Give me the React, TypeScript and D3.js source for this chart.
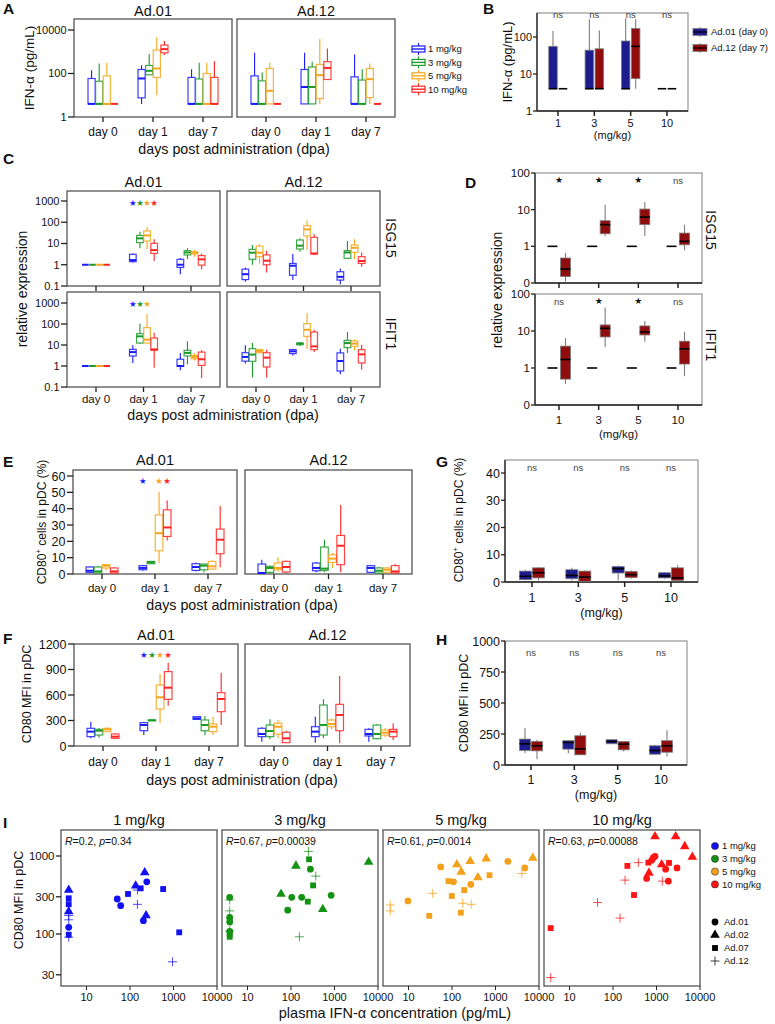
import React from "react";
import * as d3 from "d3";

const FONT = "'Liberation Sans', Arial, Helvetica, sans-serif";

// ---------- categories ----------
const days = ["day 0", "day 1", "day 7"];
const doses = ["1 mg/kg", "3 mg/kg", "5 mg/kg", "10 mg/kg"];
const doseTicks = ["1", "3", "5", "10"];
const vectors = ["Ad.01", "Ad.12"];
const doseColors = ["#1a1aff", "#1c9a2a", "#f4a61c", "#ff2424"];
const pairColors = ["#1c1c8e", "#8f0d0d"];
const pairLabels = ["Ad.01 (day 0)", "Ad.12 (day 7)"];
const shapeVectors = ["Ad.01", "Ad.02", "Ad.07", "Ad.12"];
const scatterColors = ["#1010f0", "#139213", "#f3a01a", "#ff1414"];

// ---------- box statistics: [min, q1, median, q3, max], indexed [day][dose] ----------
const ifnAd01 = [
  [[4, 4, 4, 59, 142], [4, 4, 4, 44, 290], [4, 4, 4, 78, 310], [4, 4, 4, 4, 4]],
  [[4, 7.6, 59, 153, 241], [87, 87, 133, 234, 780], [10, 66, 170, 1200, 4600], [700, 900, 1320, 2030, 3100]],
  [[4, 4, 4, 66, 158], [4, 4, 4, 56, 310], [4, 4, 4, 100, 310], [4, 4, 4, 66, 370]],
];
const ifnAd12 = [
  [[4, 4, 4, 78, 900], [4, 4, 4, 46, 110], [4, 4, 16, 170, 310], [4, 4, 4, 4, 4]],
  [[4, 4, 24, 153, 900], [4, 4, 24, 200, 350], [4, 7, 84, 260, 3900], [50, 53, 180, 350, 1400]],
  [[4, 4, 4, 70, 750], [4, 4, 4, 50, 158], [4, 7.8, 55, 170, 290], [4, 4, 4, 4, 4]],
];

// IFN-α by dose: Ad.01 at day 0 vs Ad.12 at day 7
const ifnDay0Ad01 = [[4, 4, 4, 56, 145], [4, 4, 4, 44, 300], [4, 4, 4, 78, 320], [4, 4, 4, 4, 4]];
const ifnDay7Ad12 = [[4, 4, 4, 4, 4], [4, 4, 4, 48, 150], [4, 7.5, 56, 170, 300], [4, 4, 4, 4, 4]];
const ifnSig = ["ns", "ns", "ns", "ns"];

const isgAd01 = [
  [[1, 1, 1, 1, 1], [1, 1, 1, 1, 1], [1, 1, 1, 1, 1], [1, 1, 1, 1, 1]],
  [[1.24, 1.4, 1.66, 3.1, 3.4], [5.9, 11, 17.5, 24, 36], [5.5, 13, 24, 39, 58], [1.5, 3.4, 4.9, 10.2, 16]],
  [[0.36, 0.75, 1.0, 1.8, 2.1], [1.8, 2.9, 3.8, 4.6, 5.9], [2.4, 3.2, 3.7, 4.1, 4.9], [0.6, 0.96, 1.8, 2.7, 3.4]],
];
const isgAd12 = [
  [[0.16, 0.2, 0.36, 0.62, 0.75], [1.0, 1.8, 3.7, 5.3, 8.5], [1.15, 2.4, 3.7, 7.6, 9.1], [0.43, 1.0, 1.55, 2.9, 4.6]],
  [[0.19, 0.32, 0.9, 1.15, 3.2], [4.1, 5.5, 7.9, 14.6, 17.5], [4.9, 22.6, 46, 69, 120], [2.9, 3.2, 3.4, 19.5, 27]],
  [[0.12, 0.19, 0.27, 0.47, 0.67], [2.0, 2.0, 3.8, 4.6, 13], [1.85, 3.8, 6.3, 8.5, 15.7], [0.8, 1.15, 1.5, 2.4, 3.8]],
];
const ifitAd01 = [
  [[1, 1, 1, 1, 1], [1, 1, 1, 1, 1], [1, 1, 1, 1, 1], [1, 1, 1, 1, 1]],
  [[1.4, 3.0, 4.6, 6.2, 9.6], [11.6, 12.4, 25.8, 34.6, 104], [12, 12.4, 18, 67, 310], [0.83, 5.6, 6.2, 21.5, 38.6]],
  [[0.62, 0.96, 1.0, 2.1, 4.2], [1.2, 3.0, 4.2, 5.6, 15], [1.85, 2.2, 2.7, 3.2, 3.9], [0.27, 1.07, 2.1, 4.6, 5.6]],
];
const ifitAd12 = [
  [[1.3, 1.7, 2.7, 4.3, 9.6], [0.28, 1.67, 3.5, 6.7, 12.4], [3.9, 4.3, 5.2, 6.0, 6.7], [0.28, 0.9, 2.5, 4.3, 6]],
  [[3.2, 3.9, 5, 6, 6.7], [9, 10.3, 11.6, 12.4, 13.9], [6.7, 25.8, 53, 104, 335], [4.6, 6.0, 8.6, 41.5, 53]],
  [[0.4, 0.58, 1.73, 4.2, 6.7], [4.2, 7.5, 12.4, 16.6, 41.5], [5.6, 8.6, 11.6, 15.5, 18.6], [0.67, 1.4, 3.6, 6, 10.3]],
];
const isgStars = [true, true, true, true];
const ifitStars = [true, true, true, false];

// relative expression by dose: Ad.01 day 0 reference vs Ad.12 day 7
const expRefAd01 = [[1, 1, 1, 1, 1], [1, 1, 1, 1, 1], [1, 1, 1, 1, 1], [1, 1, 1, 1, 1]];
const isgDay7Ad12 = [[0.11, 0.15, 0.24, 0.48, 0.66], [1.9, 2.2, 3.9, 5.0, 13.7], [1.9, 3.9, 6.3, 10.4, 16.2], [0.78, 1.1, 1.37, 2.3, 3.9]];
const ifitDay7Ad12 = [[0.37, 0.5, 1.7, 3.9, 6.4], [3.7, 6.9, 11.8, 14.6, 43], [5.1, 7.8, 9.4, 13.7, 18.7], [0.6, 1.28, 3.3, 5.3, 9.6]];
const isgSig = ["*", "*", "*", "ns"];
const ifitSig = ["ns", "*", "*", "ns"];

const cd80PctAd01 = [
  [[0.6, 1.0, 2.0, 4.3, 4.7], [0.4, 0.6, 1.6, 4.3, 5.1], [2.2, 3.7, 5.1, 5.7, 6.1], [0.4, 0.6, 1.6, 3.7, 4.1]],
  [[2.0, 2.6, 3.7, 5.1, 5.7], [6.3, 6.3, 7.1, 7.7, 7.7], [6.7, 14.2, 25, 36.2, 50.4], [20.5, 23, 28.5, 39.3, 45]],
  [[1.6, 2.2, 4.3, 6.3, 7.1], [1.0, 2.6, 5.1, 6.1, 6.3], [2.6, 3.0, 4.7, 7.7, 8.3], [4.1, 12.4, 21, 27.5, 41.7]],
];
const cd80PctAd12 = [
  [[0.4, 0.6, 0.6, 6.1, 8.7], [0.2, 1.0, 3.7, 4.7, 5.1], [1.6, 2.6, 3.7, 6.7, 10.2], [0.6, 1.2, 4.3, 7.7, 8.3]],
  [[1.0, 2.0, 3.7, 6.7, 7.3], [1.0, 2.2, 3.3, 16.5, 21], [3.7, 7.1, 9.4, 11.8, 12.8], [1.0, 5.7, 17.3, 23.6, 42.3]],
  [[0.6, 1.0, 3.7, 5.1, 5.5], [0.4, 0.6, 2.0, 3.7, 4.3], [0.6, 1.0, 2.6, 3.7, 4.3], [0.6, 0.6, 1.6, 5.1, 6.1]],
];
const cd80PctStars = [true, false, true, true];

const cd80MfiAd01 = [
  [[90, 110, 169, 208, 286], [98, 129, 180, 196, 208], [169, 169, 196, 208, 220], [86, 90, 110, 141, 149]],
  [[129, 180, 247, 275, 286], [298, 298, 302, 306, 306], [267, 435, 573, 718, 847], [475, 549, 686, 875, 980]],
  [[306, 314, 325, 345, 353], [129, 180, 247, 306, 353], [129, 169, 227, 259, 345], [247, 404, 553, 627, 863]],
];
const cd80MfiAd12 = [
  [[51, 110, 141, 208, 220], [78, 110, 176, 247, 314], [90, 141, 227, 267, 306], [39, 39, 90, 161, 180]],
  [[39, 110, 169, 227, 345], [90, 129, 247, 482, 549], [196, 227, 259, 306, 325], [31, 180, 365, 490, 824]],
  [[51, 118, 141, 196, 208], [78, 86, 141, 247, 255], [102, 129, 157, 188, 208], [71, 110, 169, 196, 267]],
];
const cd80MfiStars = [true, true, true, true];

const cd80PctDay0Ad01 = [[0.6, 0.85, 2.1, 4.0, 4.5], [0.6, 1.2, 2.4, 4.5, 5.2], [0.6, 3.3, 4.9, 5.7, 6.1], [1.2, 1.5, 2.2, 3.4, 3.7]];
const cd80PctDay7Ad12 = [[0.6, 1.5, 3.4, 5.2, 5.5], [0.25, 0.25, 1.8, 4.0, 4.3], [1.2, 1.6, 2.7, 3.9, 4.3], [0.4, 0.6, 1.5, 5.2, 6.1]];
const cd80MfiDay0Ad01 = [[95, 117, 171, 209, 299], [95, 128, 182, 196, 196], [171, 171, 190, 204, 209], [82, 87, 117, 155, 163]];
const cd80MfiDay7Ad12 = [[46, 114, 155, 190, 204], [82, 82, 130, 236, 258], [109, 122, 168, 190, 190], [68, 103, 155, 196, 280]];
const nsSig = ["ns", "ns", "ns", "ns"];

// ---------- correlation: [vector, plasma IFN-α (pg/mL), CD80 MFI] ----------
const corr1mg = [
  ["Ad.02", 3.9, 366], ["Ad.07", 3.9, 287], ["Ad.07", 3.9, 241], ["Ad.02", 3.9, 194], ["Ad.12", 3.9, 173],
  ["Ad.12", 3.9, 152], ["Ad.01", 3.9, 122], ["Ad.07", 3.9, 98], ["Ad.12", 3.9, 91],
  ["Ad.01", 51, 281], ["Ad.01", 61, 231], ["Ad.07", 90, 326], ["Ad.02", 135, 416], ["Ad.12", 148, 366],
  ["Ad.07", 176, 385], ["Ad.12", 148, 240], ["Ad.02", 218, 614], ["Ad.01", 243, 467], ["Ad.02", 234, 173],
  ["Ad.01", 203, 148], ["Ad.07", 578, 377], ["Ad.07", 1352, 105], ["Ad.12", 948, 44],
];
const corr3mg = [
  ["Ad.01", 3.9, 295], ["Ad.12", 3.9, 273], ["Ad.12", 3.9, 198], ["Ad.01", 3.9, 163], ["Ad.07", 3.9, 152],
  ["Ad.01", 3.9, 142], ["Ad.12", 3.9, 110], ["Ad.01", 3.9, 108], ["Ad.07", 3.9, 100], ["Ad.07", 3.9, 92],
  ["Ad.12", 251, 1146], ["Ad.07", 260, 907], ["Ad.02", 130, 747], ["Ad.01", 279, 677], ["Ad.12", 371, 552],
  ["Ad.02", 6090, 839], ["Ad.07", 322, 420], ["Ad.02", 59, 326], ["Ad.01", 104, 295], ["Ad.01", 176, 295],
  ["Ad.01", 838, 313], ["Ad.07", 243, 260], ["Ad.01", 84, 202], ["Ad.02", 538, 208], ["Ad.12", 156, 92],
];
const corr5mg = [
  ["Ad.12", 3.8, 236], ["Ad.12", 3.8, 198],
  ["Ad.01", 9.7, 265], ["Ad.01", 55, 725], ["Ad.02", 129, 776], ["Ad.02", 262, 855], ["Ad.02", 163, 626],
  ["Ad.02", 610, 925], ["Ad.02", 393, 531], ["Ad.02", 7210, 944], ["Ad.01", 1923, 855], ["Ad.01", 4725, 703],
  ["Ad.12", 4030, 596], ["Ad.07", 728, 567], ["Ad.07", 83, 476], ["Ad.01", 108, 467], ["Ad.01", 271, 432],
  ["Ad.07", 191, 366], ["Ad.12", 36, 332], ["Ad.07", 99, 307], ["Ad.12", 177, 248], ["Ad.12", 276, 240],
  ["Ad.07", 160, 188], ["Ad.07", 30, 171],
];
const corr10mg = [
  ["Ad.07", 3.7, 119], ["Ad.12", 3.7, 27.6], ["Ad.12", 44, 253], ["Ad.12", 145, 160], ["Ad.07", 304, 316],
  ["Ad.12", 189, 491], ["Ad.07", 214, 747], ["Ad.12", 382, 822], ["Ad.02", 924, 1778], ["Ad.02", 2760, 1778],
  ["Ad.02", 4450, 1327], ["Ad.02", 6670, 971], ["Ad.02", 1316, 776], ["Ad.02", 673, 608], ["Ad.07", 649, 822],
  ["Ad.01", 774, 881], ["Ad.01", 846, 953], ["Ad.01", 924, 990], ["Ad.07", 1937, 815], ["Ad.01", 1625, 677],
  ["Ad.01", 2960, 703], ["Ad.01", 594, 515], ["Ad.01", 1870, 476], ["Ad.12", 1360, 476],
];
const corrR = ["0.2", "0.67", "0.61", "0.63"];
const corrP = ["0.34", "0.00039", "0.0014", "0.00088"];

// ---------- drawing helpers ----------
function Box({ cx, w, s, y, color, filled }: any) {
  const [mn, q1, md, q3, mx] = s;
  const yT = y(q3);
  const yB = y(q1);
  const edge = filled ? "#7d7d7d" : color;
  return (
    <g>
      <line x1={cx} x2={cx} y1={y(mx)} y2={yT} stroke={edge} strokeWidth={1.1} />
      <line x1={cx} x2={cx} y1={yB} y2={y(mn)} stroke={edge} strokeWidth={1.1} />
      {yB - yT > 0.3 && (
        <rect x={cx - w / 2} y={yT} width={w} height={yB - yT} fill={filled ? color : "#fff"}
          stroke={edge} strokeWidth={filled ? 0.8 : 1.2} strokeOpacity={filled ? 1 : 0.85} />
      )}
      <line x1={cx - w / 2} x2={cx + w / 2} y1={y(md)} y2={y(md)} stroke={filled ? "#000" : color}
        strokeWidth={filled ? 1.6 : 2} />
    </g>
  );
}

function LeftTicks({ x, y, values, labels, fontSize, len = 6, gap = 1.5 }: any) {
  return (
    <g>
      {values.map((v: number, i: number) => (
        <g key={i}>
          <line x1={x - len} x2={x} y1={y(v)} y2={y(v)} stroke="#222" strokeWidth={1.3} />
          <text x={x - len - gap} y={y(v)} dy="0.36em" textAnchor="end" fontSize={fontSize}>{labels[i]}</text>
        </g>
      ))}
    </g>
  );
}

function DayFacet({ x0, x1, y0, y1, y, data, half, title, titleY, dayY, dayFont, stars, starY }: any) {
  const xs = d3.scalePoint().domain(days).range([x0 + 29, x1 - 29]);
  const band = d3.scaleBand().domain(doses).range([-half, half]).paddingInner(0.06);
  const bw = band.bandwidth();
  const cx = (i: number, j: number) => (xs(days[i]) as number) + (band(doses[j]) as number) + bw / 2;
  return (
    <g>
      {title && <text x={(x0 + x1) / 2} y={titleY} textAnchor="middle" fontSize={14.5}>{title}</text>}
      <rect x={x0} y={y0} width={x1 - x0} height={y1 - y0} fill="none" stroke="#555" strokeWidth={1.3} />
      {days.map((d, i) => (
        <g key={d}>
          <line x1={xs(d)} x2={xs(d)} y1={y1} y2={y1 + 5} stroke="#222" strokeWidth={1.3} />
          {dayY && <text x={xs(d)} y={dayY} textAnchor="middle" fontSize={dayFont}>{d}</text>}
          {doses.map((ds, j) => (
            <Box key={ds} cx={cx(i, j)} w={bw} s={data[i][j]} y={y} color={doseColors[j]} />
          ))}
        </g>
      ))}
      {stars && stars.map((on: boolean, j: number) => on ? (
        <text key={j} x={cx(1, j)} y={starY} dy="0.35em" textAnchor="middle" fontSize={8.5}
          fontFamily="'DejaVu Sans', sans-serif" fill={doseColors[j]}>★</text>
      ) : null)}
    </g>
  );
}

function PairPanel({ x0, x1, y0, y1, y, left, right, sig, sigY, pad, bw, off, yTicks, yLabels, tickFont,
  xLabelY, unitY }: any) {
  const xs = d3.scalePoint().domain(doseTicks).range([x0 + pad, x1 - pad]);
  return (
    <g>
      <rect x={x0} y={y0} width={x1 - x0} height={y1 - y0} fill="none" stroke="#8a8a8a" strokeWidth={1.1} />
      <line x1={x0} x2={x0} y1={y0} y2={y1} stroke="#222" strokeWidth={1.3} />
      <line x1={x0} x2={x1} y1={y1} y2={y1} stroke="#222" strokeWidth={1.3} />
      <LeftTicks x={x0} y={y} values={yTicks} labels={yLabels} fontSize={tickFont} len={4} gap={1} />
      {doseTicks.map((d, j) => (
        <g key={d}>
          <line x1={xs(d)} x2={xs(d)} y1={y1} y2={y1 + 5} stroke="#222" strokeWidth={1.5} />
          {xLabelY && <text x={xs(d)} y={xLabelY} textAnchor="middle" fontSize={tickFont}>{d}</text>}
          <Box cx={(xs(d) as number) - off} w={bw} s={left[j]} y={y} color={pairColors[0]} filled />
          <Box cx={(xs(d) as number) + off} w={bw} s={right[j]} y={y} color={pairColors[1]} filled />
          {sig[j] === "*" ? (
            <text x={xs(d)} y={sigY} dy="-0.1em" textAnchor="middle" fontSize={9}
              fontFamily="'DejaVu Sans', sans-serif" fill="#111">★</text>
          ) : (
            <text x={xs(d)} y={sigY} textAnchor="middle" fontSize={9.5} fill="#444">{sig[j]}</text>
          )}
        </g>
      ))}
      {unitY && <text x={(x0 + x1) / 2} y={unitY} textAnchor="middle" fontSize={tickFont}>(mg/kg)</text>}
    </g>
  );
}

function RotLabel({ x, y, angle = -90, size = 13, children }: any) {
  return (
    <text transform={`translate(${x},${y}) rotate(${angle})`} textAnchor="middle" dy="0.35em" fontSize={size}>
      {children}
    </text>
  );
}

function PanelLetter({ x, y, children }: any) {
  return <text x={x} y={y} fontSize={15.5} fontWeight="bold">{children}</text>;
}

function Marker({ shape, x, y, color }: any) {
  if (shape === "Ad.12") {
    return <path d={`M${x - 4.5},${y}H${x + 4.5}M${x},${y - 4.5}V${y + 4.5}`} stroke={color} strokeWidth={1}
      strokeOpacity={0.75} fill="none" />;
  }
  const type = shape === "Ad.01" ? d3.symbolCircle : shape === "Ad.02" ? d3.symbolTriangle : d3.symbolSquare;
  const size = shape === "Ad.01" ? 36 : shape === "Ad.02" ? 40 : 34;
  return <path d={d3.symbol().type(type).size(size)() as string} transform={`translate(${x},${y})`} fill={color} />;
}

// ---------- layout constants ----------
const yA = d3.scaleLog().domain([1, 10000]).range([117, 30]);
const yB = d3.scaleLog().domain([1, 100]).range([111, 37]);
const yC1 = d3.scaleLog().domain([0.1, 1000]).range([286, 201]);
const yC2 = d3.scaleLog().domain([0.1, 1000]).range([387, 303]);
const yD1 = d3.scaleLog().domain([0.1, 100]).range([283, 173]);
const yD2 = d3.scaleLog().domain([0.1, 100]).range([405, 294]);
const yE = d3.scaleLinear().domain([0, 60]).range([574, 476]);
const yF = d3.scaleLinear().domain([0, 1200]).range([746, 644]);
const yG = d3.scaleLinear().domain([0, 40]).range([582, 473]);
const yH = d3.scaleLinear().domain([0, 1000]).range([765, 641]);

const iX0 = [61, 222, 383, 544];
const iW = 156;
const yI = d3.scaleLog().domain([Math.pow(10, 3 - 130 / 78), Math.pow(10, 3 + 26 / 78)]).range([986, 830]);
const corrSets = [corr1mg, corr3mg, corr5mg, corr10mg];

export default function App() {
  const xI = (x0: number) => d3.scaleLog().domain([Math.pow(10, 4 - iW / 43.5), 10000]).range([x0, x0 + iW]);
  return (
    <svg width={775} height={1024} style={{ position: "absolute", left: 0, top: 0, background: "#fff" }}
      fontFamily={FONT} fill="#111">
      <rect width={775} height={1024} fill="#fff" />

      {/* ---------- A: plasma IFN-α over time ---------- */}
      <PanelLetter x={3} y={14}>A</PanelLetter>
      {[[74, 232], [237, 395]].map(([x0, x1], k) => (
        <DayFacet key={k} x0={x0} x1={x1} y0={19} y1={117} y={yA} data={[ifnAd01, ifnAd12][k]} half={15}
          title={vectors[k]} titleY={16} dayY={136} dayFont={12} />
      ))}
      <LeftTicks x={74} y={yA} values={[1, 100, 10000]} labels={["1", "100", "10000"]} fontSize={11} />
      <RotLabel x={29} y={68} size={13.5}>IFN-α (pg/mL)</RotLabel>
      <text x={234} y={154} textAnchor="middle" fontSize={14.3}>days post administration (dpa)</text>
      {doses.map((d, j) => {
        const ly = 49 + j * 13.4;
        return (
          <g key={d}>
            <line x1={418.5} x2={418.5} y1={ly - 6} y2={ly + 6} stroke={doseColors[j]} strokeWidth={1.1} />
            <rect x={412} y={ly - 3} width={13} height={6} fill="#fff" stroke={doseColors[j]} strokeWidth={1.2} />
            <line x1={412} x2={425} y1={ly} y2={ly} stroke={doseColors[j]} strokeWidth={1.4} />
            <text x={428} y={ly} dy="0.35em" fontSize={9.5}>{d}</text>
          </g>
        );
      })}

      {/* ---------- B: IFN-α by dose ---------- */}
      <PanelLetter x={483} y={14}>B</PanelLetter>
      <PairPanel x0={537} x1={688} y0={13} y1={111} y={yB} left={ifnDay0Ad01} right={ifnDay7Ad12} sig={ifnSig}
        sigY={18} pad={21} bw={8.5} off={5} yTicks={[1, 10, 100]} yLabels={["1", "10", "100"]} tickFont={11}
        xLabelY={127} unitY={139} />
      <RotLabel x={507} y={62} size={13}>IFN-α (pg/mL)</RotLabel>
      {pairLabels.map((l, k) => {
        const ly = 32 + k * 16;
        return (
          <g key={l}>
            <line x1={700} x2={700} y1={ly - 5} y2={ly + 5} stroke="#7d7d7d" strokeWidth={1} />
            <rect x={693} y={ly - 3.5} width={14} height={7} fill={pairColors[k]} stroke="#7d7d7d" strokeWidth={0.8} />
            <line x1={693} x2={707} y1={ly} y2={ly} stroke="#000" strokeWidth={1.2} />
            <text x={711} y={ly} dy="0.35em" fontSize={9.5}>{l}</text>
          </g>
        );
      })}

      {/* ---------- C: ISG15 / IFIT1 over time ---------- */}
      <PanelLetter x={3} y={164}>C</PanelLetter>
      {[[67, 220], [227, 380]].map(([x0, x1], k) => (
        <g key={k}>
          <DayFacet x0={x0} x1={x1} y0={191} y1={286} y={yC1} data={[isgAd01, isgAd12][k]} half={14}
            title={vectors[k]} titleY={187} stars={k === 0 ? isgStars : null} starY={203} />
          <DayFacet x0={x0} x1={x1} y0={292} y1={387} y={yC2} data={[ifitAd01, ifitAd12][k]} half={14}
            dayY={403} dayFont={11.5} stars={k === 0 ? ifitStars : null} starY={304} />
        </g>
      ))}
      <LeftTicks x={67} y={yC1} values={[0.1, 1, 10, 100, 1000]} labels={["0.1", "1", "10", "100", "1000"]} fontSize={11} />
      <LeftTicks x={67} y={yC2} values={[0.1, 1, 10, 100, 1000]} labels={["0.1", "1", "10", "100", "1000"]} fontSize={11} />
      <RotLabel x={22} y={289} size={14}>relative expression</RotLabel>
      <RotLabel x={391} y={238} angle={90} size={14}>ISG15</RotLabel>
      <RotLabel x={391} y={334} angle={90} size={14}>IFIT1</RotLabel>
      <text x={223} y={420} textAnchor="middle" fontSize={14.3}>days post administration (dpa)</text>

      {/* ---------- D: ISG15 / IFIT1 by dose ---------- */}
      <PanelLetter x={465} y={188}>D</PanelLetter>
      <PairPanel x0={535} x1={702} y0={173} y1={283} y={yD1} left={expRefAd01} right={isgDay7Ad12} sig={isgSig}
        sigY={184} pad={24} bw={10} off={6.5} yTicks={[0.1, 1, 10, 100]} yLabels={["0", "1", "10", "100"]}
        tickFont={11.5} />
      <PairPanel x0={535} x1={702} y0={294} y1={405} y={yD2} left={expRefAd01} right={ifitDay7Ad12} sig={ifitSig}
        sigY={305} pad={24} bw={10} off={6.5} yTicks={[0.1, 1, 10, 100]} yLabels={["0", "1", "10", "100"]}
        tickFont={11.5} xLabelY={424} unitY={438} />
      <RotLabel x={497} y={290} size={14}>relative expression</RotLabel>
      <RotLabel x={711} y={230} angle={90} size={14}>ISG15</RotLabel>
      <RotLabel x={711} y={345} angle={90} size={14}>IFIT1</RotLabel>

      {/* ---------- E: CD80+ pDC over time ---------- */}
      <PanelLetter x={3} y={467}>E</PanelLetter>
      {[[73, 237], [245, 412]].map(([x0, x1], k) => (
        <DayFacet key={k} x0={x0} x1={x1} y0={470} y1={574} y={yE} data={[cd80PctAd01, cd80PctAd12][k]} half={16}
          title={vectors[k]} titleY={465} dayY={592} dayFont={11.5} stars={k === 0 ? cd80PctStars : null} starY={481} />
      ))}
      <LeftTicks x={73} y={yE} values={[0, 10, 20, 30, 40, 50, 60]} labels={["0", "10", "20", "30", "40", "50", "60"]} fontSize={12.5} />
      <RotLabel x={42} y={522} size={12}>CD80<tspan fontSize={8} dy="-5">+</tspan><tspan dy="5"> cells in pDC (%)</tspan></RotLabel>
      <text x={242} y={610} textAnchor="middle" fontSize={14.3}>days post administration (dpa)</text>

      {/* ---------- G: CD80+ pDC by dose ---------- */}
      <PanelLetter x={436} y={467}>G</PanelLetter>
      <PairPanel x0={505} x1={698} y0={460} y1={582} y={yG} left={cd80PctDay0Ad01} right={cd80PctDay7Ad12} sig={nsSig}
        sigY={471} pad={27} bw={12} off={6.5} yTicks={[0, 10, 20, 30, 40]} yLabels={["0", "10", "20", "30", "40"]}
        tickFont={12.5} xLabelY={602} unitY={617} />
      <RotLabel x={459} y={520} size={12}>CD80<tspan fontSize={8} dy="-5">+</tspan><tspan dy="5"> cells in pDC (%)</tspan></RotLabel>

      {/* ---------- F: CD80 MFI over time ---------- */}
      <PanelLetter x={3} y={644}>F</PanelLetter>
      {[[74, 238], [245, 410]].map(([x0, x1], k) => (
        <DayFacet key={k} x0={x0} x1={x1} y0={644} y1={746} y={yF} data={[cd80MfiAd01, cd80MfiAd12][k]} half={16}
          title={vectors[k]} titleY={640} dayY={766} dayFont={12} stars={k === 0 ? cd80MfiStars : null} starY={655} />
      ))}
      <LeftTicks x={74} y={yF} values={[0, 300, 600, 900, 1200]} labels={["0", "300", "600", "900", "1200"]} fontSize={12.5} />
      <RotLabel x={27} y={694} size={12.5}>CD80 MFI in pDC</RotLabel>
      <text x={242} y={785} textAnchor="middle" fontSize={14.3}>days post administration (dpa)</text>

      {/* ---------- H: CD80 MFI by dose ---------- */}
      <PanelLetter x={436} y={645}>H</PanelLetter>
      <PairPanel x0={505} x1={687} y0={641} y1={765} y={yH} left={cd80MfiDay0Ad01} right={cd80MfiDay7Ad12} sig={nsSig}
        sigY={656} pad={26} bw={11} off={6} yTicks={[0, 250, 500, 750, 1000]}
        yLabels={["0", "250", "500", "750", "1000"]} tickFont={12.5} xLabelY={784} unitY={799} />
      <RotLabel x={464} y={703} size={12.5}>CD80 MFI in pDC</RotLabel>

      {/* ---------- I: CD80 MFI vs plasma IFN-α ---------- */}
      <PanelLetter x={3} y={828}>I</PanelLetter>
      {iX0.map((x0, k) => {
        const xs = xI(x0);
        return (
          <g key={k}>
            <text x={x0 + iW / 2} y={825} textAnchor="middle" fontSize={14.5}>{doses[k]}</text>
            <rect x={x0} y={830} width={iW} height={156} fill="none" stroke="#555" strokeWidth={1.3} />
            {[10, 100, 1000, 10000].map((t) => (
              <g key={t}>
                <line x1={xs(t)} x2={xs(t)} y1={986} y2={990} stroke="#222" strokeWidth={1} />
                <text x={xs(t)} y={1001} textAnchor="middle" fontSize={11}>{t}</text>
              </g>
            ))}
            <text x={x0 + 4} y={845} fontSize={10.5}>
              <tspan fontStyle="italic">R</tspan>={corrR[k]}, <tspan fontStyle="italic">p</tspan>={corrP[k]}
            </text>
            {corrSets[k].map((p: any, i: number) => (
              <Marker key={i} shape={p[0]} x={xs(p[1])} y={yI(p[2])} color={scatterColors[k]} />
            ))}
          </g>
        );
      })}
      <LeftTicks x={61} y={yI} values={[30, 100, 300, 1000]} labels={["30", "100", "300", "1000"]} fontSize={11.5} len={5} />
      <RotLabel x={19} y={900} size={12.5}>CD80 MFI in pDC</RotLabel>
      <text x={395} y={1018} textAnchor="middle" fontSize={14.5}>plasma IFN-α concentration (pg/mL)</text>
      {doses.map((d, j) => (
        <g key={d}>
          <circle cx={715} cy={846 + j * 12.8} r={3.6} fill={scatterColors[j]} stroke="#333" strokeWidth={0.6} />
          <text x={722} y={846 + j * 12.8} dy="0.35em" fontSize={9.5}>{d}</text>
        </g>
      ))}
      {shapeVectors.map((v, j) => (
        <g key={v}>
          <Marker shape={v} x={715} y={922 + j * 13} color="#000" />
          <text x={724} y={922 + j * 13} dy="0.35em" fontSize={9.5}>{v}</text>
        </g>
      ))}
    </svg>
  );
}
